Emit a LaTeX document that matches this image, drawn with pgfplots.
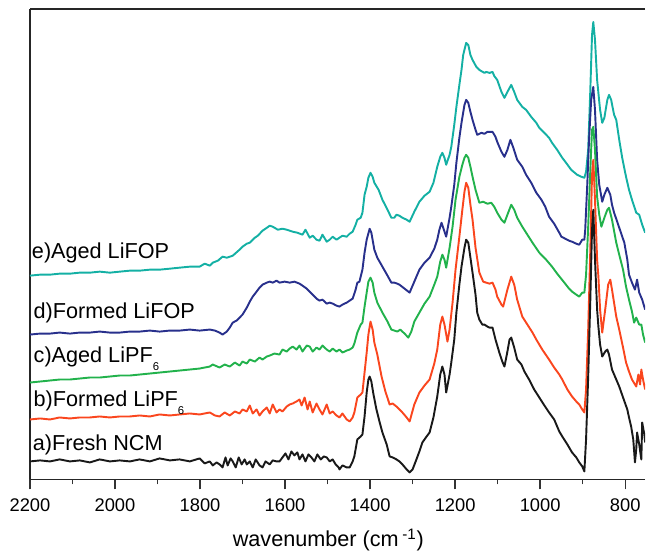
\documentclass[border=0pt]{standalone}
\usepackage{pgfplots}
\pgfplotsset{compat=1.18}
\usepackage{fontspec}
\setmainfont{Liberation Sans}

\definecolor{cE}{RGB}{20,176,164}
\definecolor{cD}{RGB}{40,48,140}
\definecolor{cC}{RGB}{34,178,76}
\definecolor{cB}{RGB}{250,70,30}
\definecolor{cA}{RGB}{25,25,25}
\newcommand{\six}{\raisebox{-4.6pt}{\fontsize{6.8}{7}\selectfont 6}}

\begin{document}
\begin{tikzpicture}
\begin{axis}[
  name=ax,
  width=369.6pt, height=282.6pt, scale only axis,
  xmin=753, xmax=2200, x dir=reverse,
  ymin=0, ymax=471,
  ytick=\empty,
  xtick={800,1000,...,2200},
  minor xtick={900,1100,...,2100},
  xtick pos=lower,
  tick align=outside,
  major tick length=6pt,
  minor tick length=3pt,
  tick style={black!80, line width=0.8pt},
  separate axis lines,
  axis x line=box,
  axis y line=left,
  axis line style={-, line width=0.8pt, black!85},
  xticklabel style={/pgf/number format/1000 sep={}, font=\fontsize{11}{13}\selectfont, yshift=-2pt},
  /pgf/number format/assume math mode=true,
  xlabel={wavenumber (cm\,\textsuperscript{-1})},
  xlabel style={font=\fontsize{13}{15}\selectfont, at={(axis description cs:0.485,0)}, anchor=base, yshift=-40.5pt},
  every axis plot/.append style={line width=1.15pt, line join=round},
  clip=true,
]
% e) Aged LiFOP
\addplot[cE] coordinates {
(2200,204)(2176,205)(2153,205)(2130,206)(2106,206)(2083,207)(2059,207)(2036,208)(2012,207)(1989,208)
(1965,209)(1942,209)(1918,210)(1895,210)(1871,211)(1848,212)(1824,213)(1801,213)(1789,216)(1777,214)
(1770,217)(1758,219)(1747,223)(1737,222)(1723,224)(1707,230)(1700,233)(1690,236)(1683,237)(1671,242)
(1664,244)(1653,249)(1646,251)(1636,254)(1629,253)(1617,250)(1606,251)(1596,250)(1582,248)(1571,247)
(1559,245)(1552,250)(1542,242)(1535,244)(1526,240)(1519,239)(1512,245)(1502,238)(1495,240)(1488,243)
(1479,240)(1472,242)(1465,244)(1455,243)(1448,246)(1441,248)(1434,255)(1430,260)(1422,262)(1418,267)
(1413,285)(1408,293)(1404,302)(1399,307)(1394,303)(1390,297)(1380,290)(1371,280)(1359,270)(1350,262)
(1343,262)(1338,265)(1331,264)(1324,262)(1314,260)(1307,258)(1296,268)(1284,278)(1272,284)(1260,288)
(1251,297)(1242,313)(1235,323)(1230,327)(1225,322)(1221,315)(1213,325)(1209,333)(1202,355)(1197,373)
(1190,395)(1185,410)(1181,425)(1174,437)(1169,435)(1164,425)(1159,420)(1150,413)(1143,410)(1131,407)
(1127,408)(1119,407)(1112,408)(1108,404)(1101,400)(1091,388)(1084,382)(1077,388)(1068,395)(1061,388)
(1054,380)(1042,373)(1033,370)(1021,363)(1009,357)(1002,352)(990,347)(979,342)(972,337)(960,330)
(948,322)(939,317)(927,310)(913,305)(903,303)(896,302)(892,308)(887,330)(882,390)(878,445)
(875,458)(871,440)(866,400)(863,387)(859,370)(854,357)(849,362)(842,380)(838,385)(833,380)
(826,365)(821,360)(814,340)(807,322)(798,303)(791,290)(784,280)(774,267)(767,265)(760,255)(753,247)
};
% d) Formed LiFOP
\addplot[cD] coordinates {
(2200,145)(2176,146)(2153,146)(2130,147)(2106,146)(2083,147)(2059,147)(2036,148)(2012,147)(1989,147)
(1965,148)(1942,148)(1918,149)(1895,148)(1871,149)(1848,149)(1824,150)(1801,149)(1777,150)(1765,149)
(1754,147)(1747,145)(1737,148)(1730,152)(1723,157)(1714,159)(1707,162)(1700,165)(1690,172)(1683,178)
(1676,183)(1667,188)(1660,192)(1653,195)(1643,197)(1636,198)(1629,197)(1620,199)(1613,197)(1601,198)
(1589,197)(1578,198)(1566,196)(1559,194)(1549,191)(1542,188)(1535,185)(1526,181)(1519,179)(1512,180)
(1502,176)(1495,177)(1488,176)(1479,174)(1472,173)(1465,175)(1455,177)(1448,179)(1441,181)(1434,190)
(1430,197)(1425,198)(1418,210)(1413,227)(1408,240)(1401,251)(1397,247)(1390,230)(1383,222)(1371,213)
(1359,204)(1350,197)(1343,197)(1336,196)(1331,195)(1319,191)(1307,187)(1296,198)(1284,210)(1272,217)
(1260,222)(1249,231)(1242,240)(1237,250)(1232,257)(1228,252)(1221,243)(1213,262)(1209,273)(1202,295)
(1197,317)(1190,342)(1185,357)(1178,375)(1174,380)(1169,377)(1164,368)(1159,360)(1152,350)(1148,345)
(1138,347)(1131,346)(1124,348)(1119,348)(1112,348)(1105,343)(1101,338)(1091,328)(1084,323)(1077,330)
(1070,340)(1063,332)(1054,320)(1042,313)(1033,305)(1021,297)(1009,287)(997,280)(988,273)(979,263)
(967,256)(955,247)(950,243)(941,241)(932,239)(925,238)(915,236)(908,235)(901,240)(896,240)
(894,250)(889,297)(885,340)(880,380)(875,393)(871,370)(866,320)(861,295)(854,278)(849,285)
(842,292)(835,285)(831,275)(826,267)(814,252)(802,237)(795,220)(791,205)(784,197)(777,190)
(772,200)(767,187)(760,180)(753,170)
};
% c) Aged LiPF6
\addplot[cC] coordinates {
(2200,97)(2176,98)(2153,99)(2130,100)(2106,100)(2083,101)(2059,102)(2036,102)(2012,103)(1989,104)
(1965,104)(1942,105)(1918,106)(1895,107)(1871,108)(1848,109)(1824,110)(1801,111)(1777,113)(1770,115)
(1754,112)(1742,115)(1730,113)(1718,117)(1707,114)(1700,118)(1690,116)(1683,120)(1671,118)(1660,122)
(1653,120)(1643,123)(1636,124)(1625,126)(1613,125)(1606,130)(1596,128)(1589,131)(1582,133)(1573,130)
(1566,134)(1559,128)(1549,134)(1542,133)(1535,128)(1526,132)(1519,130)(1512,134)(1502,130)(1495,128)
(1488,131)(1479,128)(1472,130)(1465,127)(1455,129)(1448,130)(1441,132)(1437,136)(1430,147)(1422,155)
(1418,157)(1413,173)(1408,187)(1404,198)(1399,202)(1394,197)(1390,187)(1383,177)(1371,167)(1359,158)
(1350,150)(1343,149)(1336,148)(1329,150)(1319,146)(1310,142)(1303,148)(1296,158)(1284,167)(1272,176)
(1260,183)(1249,195)(1242,203)(1235,218)(1230,225)(1225,220)(1221,212)(1213,232)(1206,253)(1199,280)
(1190,303)(1183,315)(1178,322)(1174,325)(1169,322)(1164,313)(1159,303)(1152,290)(1143,277)(1134,278)
(1124,276)(1115,277)(1108,273)(1101,267)(1091,260)(1084,257)(1077,265)(1068,275)(1061,270)(1054,262)
(1042,253)(1030,245)(1018,237)(1002,227)(986,220)(972,213)(960,206)(943,197)(932,191)(925,188)
(915,185)(908,183)(901,187)(896,187)(892,205)(887,253)(882,310)(878,350)(875,353)(871,330)
(866,283)(861,265)(856,253)(849,262)(842,270)(838,272)(831,260)(821,237)(814,225)(805,210)
(798,193)(791,180)(784,168)(779,157)(774,162)(767,155)(762,155)(758,145)(753,137)
};
% b) Formed LiPF6
\addplot[cB] coordinates {
(2200,60)(2176,61)(2153,60)(2130,62)(2106,61)(2083,62)(2059,62)(2036,63)(2012,62)(1989,63)
(1965,63)(1942,64)(1918,63)(1895,65)(1871,64)(1848,65)(1824,66)(1801,65)(1777,67)(1765,64)
(1754,63)(1742,67)(1730,64)(1718,68)(1707,66)(1700,70)(1690,68)(1683,74)(1676,66)(1667,70)
(1660,64)(1653,68)(1643,72)(1636,66)(1629,75)(1620,67)(1613,70)(1606,68)(1596,73)(1589,75)
(1582,76)(1573,78)(1566,80)(1561,74)(1554,82)(1547,70)(1542,78)(1535,67)(1526,76)(1519,70)
(1512,65)(1502,75)(1495,66)(1488,68)(1479,64)(1472,62)(1465,66)(1455,60)(1448,58)(1441,62)
(1437,67)(1430,82)(1422,85)(1418,87)(1413,107)(1408,127)(1404,145)(1399,158)(1394,150)(1390,137)
(1383,125)(1373,103)(1364,88)(1354,75)(1347,76)(1338,73)(1331,70)(1324,67)(1314,62)(1307,58)
(1296,75)(1284,87)(1272,94)(1260,100)(1249,116)(1242,130)(1235,155)(1230,163)(1225,155)(1218,138)
(1213,150)(1206,177)(1199,210)(1190,243)(1183,270)(1178,288)(1174,297)(1169,292)(1164,275)(1159,260)
(1152,232)(1143,207)(1134,198)(1127,197)(1119,196)(1112,197)(1105,190)(1101,183)(1091,175)(1087,173)
(1077,190)(1068,203)(1061,195)(1054,180)(1042,163)(1030,155)(1018,147)(1009,140)(995,130)(979,120)
(967,112)(955,105)(948,100)(936,90)(925,83)(915,78)(908,75)(901,70)(896,67)(892,90)
(887,150)(882,230)(878,305)(875,320)(871,280)(866,220)(863,203)(859,170)(854,147)(847,170)
(840,195)(835,200)(831,190)(821,163)(814,150)(805,132)(798,117)(791,108)(784,100)(774,93)
(769,105)(765,95)(762,110)(758,100)(753,90)
};
% a) Fresh NCM
\addplot[cA] coordinates {
(2200,18)(2176,19)(2153,18)(2130,20)(2106,18)(2083,19)(2059,17)(2036,20)(2012,18)(1989,19)
(1965,18)(1942,20)(1918,18)(1895,21)(1871,19)(1848,20)(1824,18)(1801,21)(1789,16)(1777,18)
(1770,14)(1761,17)(1754,15)(1747,12)(1740,22)(1735,14)(1728,21)(1723,18)(1716,12)(1709,22)
(1702,15)(1695,20)(1690,15)(1683,18)(1676,12)(1669,20)(1660,14)(1653,12)(1646,18)(1636,15)
(1629,19)(1620,18)(1613,18)(1606,22)(1599,26)(1592,20)(1585,28)(1578,24)(1571,27)(1566,20)
(1559,25)(1552,18)(1545,25)(1538,22)(1531,18)(1524,25)(1516,20)(1509,23)(1502,22)(1495,18)
(1488,20)(1481,15)(1474,12)(1472,10)(1465,14)(1455,12)(1448,12)(1441,18)(1437,23)(1430,40)
(1422,43)(1418,45)(1413,63)(1408,87)(1404,100)(1401,103)(1397,98)(1392,85)(1385,70)(1378,58)
(1371,47)(1361,35)(1354,23)(1347,22)(1338,20)(1331,18)(1324,15)(1314,10)(1307,7)(1300,10)
(1291,20)(1284,28)(1277,37)(1267,43)(1260,47)(1251,62)(1242,83)(1235,105)(1230,113)(1225,105)
(1221,87)(1213,105)(1209,117)(1202,140)(1197,167)(1190,195)(1185,213)(1178,232)(1174,240)(1169,237)
(1164,222)(1159,207)(1152,185)(1148,167)(1143,160)(1136,155)(1131,155)(1124,153)(1119,152)(1112,152)
(1105,140)(1096,127)(1089,118)(1084,113)(1077,128)(1072,140)(1068,142)(1061,132)(1054,120)(1044,115)
(1037,108)(1026,100)(1014,90)(1002,82)(990,74)(979,67)(967,60)(955,48)(948,43)(936,35)
(925,27)(915,22)(908,17)(901,13)(896,8)(892,40)(887,103)(882,180)(878,250)(875,270)
(871,220)(866,170)(863,153)(859,135)(854,123)(847,128)(842,130)(838,125)(831,110)(821,100)
(814,93)(805,82)(795,70)(791,62)(786,53)(781,40)(777,17)(774,30)(772,47)(767,35)
(762,20)(760,57)(755,45)(753,37)
};
\begin{scope}[every node/.style={anchor=west, inner sep=0pt, font=\fontsize{13}{15}\selectfont}]
\node at (axis cs:2196,227) {e)Aged LiFOP};
\node at (axis cs:2192,167) {d)Formed LiFOP};
\node at (axis cs:2192,121) {c)Aged LiPF\six};
\node at (axis cs:2192,77) {b)Formed LiPF\six};
\node at (axis cs:2194,35) {a)Fresh NCM};
\end{scope}
\end{axis}
\path (ax.south west) ++(-18pt,-44.4pt) (ax.north east) ++(0,5.4pt);
\end{tikzpicture}
\end{document}
